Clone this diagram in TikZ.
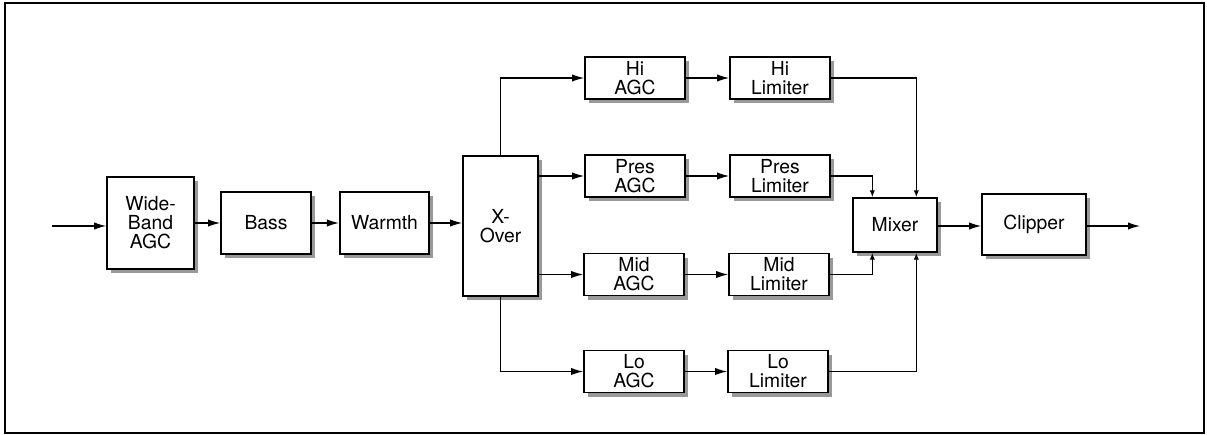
\documentclass[tikz,border=0pt]{standalone}
\usepackage{fontspec}
\setmainfont{TeX Gyre Heros}
\usetikzlibrary{arrows.meta,shadows,calc}

\begin{document}
\begin{tikzpicture}[x=0.75pt,y=-0.75pt,
  blk/.style={draw,line width=1.4pt,fill=white,align=center,inner sep=0pt,
    font=\fontsize{14.5}{14.3}\selectfont,
    drop shadow={shadow xshift=3pt,shadow yshift=-3pt,fill=black!40,opacity=1}},
  sig/.style={line width=0.9pt,-{Latex[length=9pt,width=5.5pt]}},
  sml/.style={line width=0.9pt,-{Latex[length=5pt,width=4pt]}}]
  \useasboundingbox (0,0) rectangle (1207,435);
  \draw[line width=1pt] (5,3) rectangle (1204,433);
  % main chain
  \coordinate (in) at (52,226); \coordinate (out) at (1140,226);
  \node[blk,minimum width=65pt,minimum height=69pt] (wb) at (150.5,223) {Wide-\\Band\\AGC};
  \node[blk,minimum width=67.5pt,minimum height=46pt] (bass) at (266,223) {Bass};
  \node[blk,minimum width=67pt,minimum height=46.5pt] (warm) at (384.5,223) {Warmth};
  \node[blk,minimum width=56pt,minimum height=105pt] (xo) at (500.5,226) {X-\\Over};
  \node[blk,minimum width=63pt,minimum height=40.5pt] (mix) at (895,225) {Mixer};
  \node[blk,minimum width=78pt,minimum height=46pt] (clip) at (1034,224.5) {Clipper};
  % bands
  \node[blk,minimum width=75pt,minimum height=31.5pt] (hiagc) at (635,78) {Hi\\AGC};
  \node[blk,minimum width=75pt,minimum height=31.5pt] (hilim) at (780,78) {Hi\\Limiter};
  \node[blk,minimum width=75pt,minimum height=31.5pt] (presagc) at (635,176) {Pres\\AGC};
  \node[blk,minimum width=75pt,minimum height=31.5pt] (preslim) at (780,176) {Pres\\Limiter};
  \node[blk,minimum width=75pt,minimum height=31.5pt] (midagc) at (634,274.5) {Mid\\AGC};
  \node[blk,minimum width=75pt,minimum height=31.5pt] (midlim) at (779,274.5) {Mid\\Limiter};
  \node[blk,minimum width=75pt,minimum height=31.5pt] (loagc) at (634,371.5) {Lo\\AGC};
  \node[blk,minimum width=75pt,minimum height=31.5pt] (lolim) at (778,371.5) {Lo\\Limiter};

  \draw[sig] (in) -- (in -| wb.west);
  \draw[sig] (wb.east |- bass) -- (bass.west);
  \draw[sig] (bass) -- (warm);
  \draw[sig] (warm.east) -- (warm.east -| xo.west);
  \draw[sig] (xo.north) |- (hiagc.west);
  \draw[sig] (xo.east |- presagc) -- (presagc.west);
  \draw[sig] (xo.east |- midagc) -- (midagc.west);
  \draw[sig] (xo.south) |- (loagc.west);
  \foreach \b in {hi,pres,mid,lo} \draw[sig] (\b agc) -- (\b lim);
  \draw[sml] (hilim.east) -| ([xshift=16pt]mix.north);
  \draw[sml] (preslim.east) -| ([xshift=-17pt]mix.north);
  \draw[sml] (midlim.east) -| ([xshift=-17pt]mix.south);
  \draw[sml] (lolim.east) -| ([xshift=16pt]mix.south);
  \draw[sig] (mix.east |- out) -- (clip.west |- out);
  \draw[sig] (clip.east |- out) -- (out);
\end{tikzpicture}
\end{document}
